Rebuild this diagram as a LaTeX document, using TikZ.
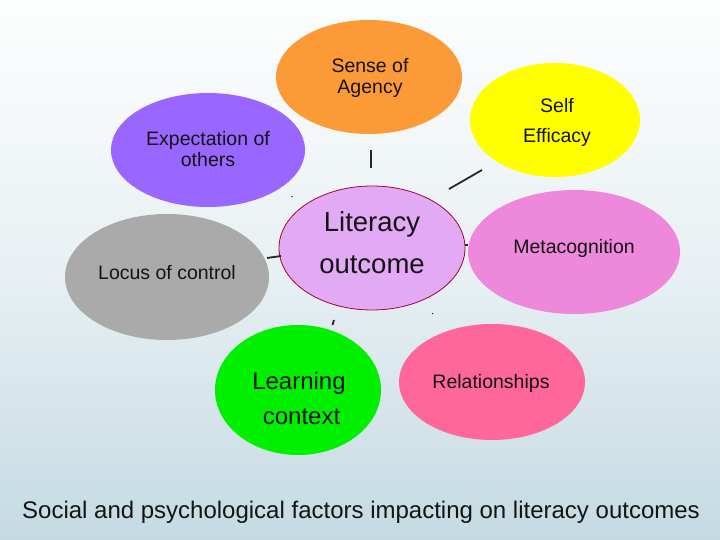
\documentclass[tikz,border=0pt]{standalone}
\usepackage{fontspec}
\setmainfont{Liberation Sans}
\usetikzlibrary{shapes.geometric}
\definecolor{bgtop}{RGB}{253,254,254}
\definecolor{bgbot}{RGB}{196,218,226}
\definecolor{cagency}{RGB}{252,154,56}
\definecolor{cself}{RGB}{255,255,0}
\definecolor{cexpect}{RGB}{153,102,255}
\definecolor{clit}{RGB}{226,170,244}
\definecolor{clitline}{RGB}{170,0,50}
\definecolor{cmeta}{RGB}{238,136,218}
\definecolor{clocus}{RGB}{170,170,170}
\definecolor{clearn}{RGB}{0,240,0}
\definecolor{crel}{RGB}{255,102,153}
\definecolor{ctext}{RGB}{20,20,20}
\tikzset{
  blob/.style={ellipse, draw=none, inner sep=0pt},
  txt/.style={text=ctext, align=center, inner sep=0pt, font=\fontsize{19.5}{21}\selectfont},
  conn/.style={draw=black!85, line width=1.8pt}
}
\begin{document}
\begin{tikzpicture}[x=1pt,y=-1pt]
\useasboundingbox (0,0) rectangle (720,540);
\shade[top color=bgtop, bottom color=bgbot, middle color={rgb,255:red,232;green,240;blue,243}] (0,0) rectangle (720,540);

% ellipses
\node[blob, fill=cagency, minimum width=186pt, minimum height=114pt] (agency) at (369,77) {};
\node[blob, fill=cself, minimum width=170pt, minimum height=114pt] (self) at (555,120) {};
\node[blob, fill=cexpect, minimum width=194pt, minimum height=114pt] (expect) at (208,150) {};
\node[blob, fill=clit, draw=clitline, line width=0.8pt, minimum width=186pt, minimum height=124pt] (lit) at (372,248) {};
\node[blob, fill=cmeta, minimum width=212pt, minimum height=124pt] (meta) at (574,252) {};
\node[blob, fill=clocus, minimum width=204pt, minimum height=126pt] (locus) at (167,277) {};
\node[blob, fill=clearn, minimum width=166pt, minimum height=130pt] (learn) at (298,390) {};
\node[blob, fill=crel, minimum width=186pt, minimum height=116pt] (rel) at (492,382) {};

% texts
\node[txt] (tagency) at (370,78) {Sense of\\Agency};
\node[txt, font=\fontsize{19.5}{30}\selectfont] (tself) at (557,122) {Self\\Efficacy};
\node[txt] (texpect) at (208,149) {Expectation of\\others};
\node[txt, font=\fontsize{27.5}{42}\selectfont] (tlit) at (372,243) {Literacy\\outcome};
\node[txt] (tmeta) at (574,248) {Metacognition};
\node[txt] (tlocus) at (167,273) {Locus of control};
\node[txt, font=\fontsize{24}{35}\selectfont] (tlearn) at (299,398) {Learning\\\hspace*{5pt}context};
\node[txt] (trel) at (491,383) {Relationships};
\node[txt, font=\fontsize{24}{28}\selectfont] (title) at (361,512) {Social and psychological factors impacting on literacy outcomes};

% connector fragments
\coordinate (a1) at (371,150); \coordinate (a2) at (371,168);
\coordinate (s1) at (449,189); \coordinate (s2) at (482,170);
\coordinate (l1) at (267,258); \coordinate (l2) at (281,256);
\coordinate (m1) at (465,245); \coordinate (m2) at (468,245);
\coordinate (g1) at (332.5,325); \coordinate (g2) at (334,320);
\coordinate (r1) at (432,313); \coordinate (r2) at (433,314);
\coordinate (e1) at (291.5,196); \coordinate (e2) at (292.5,197);
\draw[conn] (a1) -- (a2);
\draw[conn] (s1) -- (s2);
\draw[conn] (l1) -- (l2);
\draw[conn] (m1) -- (m2);
\draw[conn] (g1) -- (g2);
\draw[conn, line width=0.8pt] (r1) -- (r2);
\draw[conn, line width=0.8pt] (e1) -- (e2);
\end{tikzpicture}
\end{document}
